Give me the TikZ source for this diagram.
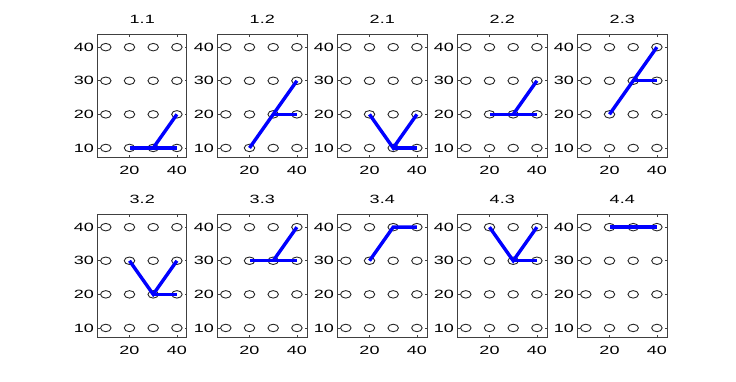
\documentclass[tikz,border=0pt]{standalone}
\usepackage{fontspec}
\setmainfont{Liberation Sans}
\usepackage{graphicx}
\usetikzlibrary{positioning,shapes.geometric}

\newcommand{\hw}[1]{\scalebox{1.5}[1]{#1}}
% one panel of the grid: #1 column, #2 row, #3 name, #4 title
\newcommand{\gridpanel}[4]{%
  \begin{scope}[shift={({(82.1+120*#1)*1pt},{(200.44-180*#2)*1pt})}, x=2.37pt, y=3.36pt]
    \draw[frame] (6.5,7.1) rectangle (44.26,43.9);
    \node[ttl] (#3-t) at (25.38,43.9) {\hw{#4}};
    \foreach \xx in {20,40} {
      \draw[tick] (\xx,7.1) -- ++(0,0.8);
      \draw[tick] (\xx,43.9) -- ++(0,-0.8);
      \node[ticklab, anchor=north, yshift=-8.5pt] (#3-x\xx) at (\xx,7.1) {\hw{\xx}};
    }
    \foreach \yy in {10,20,30,40} {
      \draw[tick] (6.5,\yy) -- ++(1,0);
      \draw[tick] (44.26,\yy) -- ++(-1,0);
      \node[ticklab, anchor=east, xshift=-3.5pt] (#3-y\yy) at (6.5,\yy) {\hw{\yy}};
      \foreach \xx in {10,20,30,40}
        \node[dot] (#3-\xx-\yy) at (\xx,\yy) {};
    }
  \end{scope}
}

\begin{document}
\begin{tikzpicture}[
    frame/.style={draw=black!75, line width=1pt},
    tick/.style={draw=black!75, line width=0.7pt},
    dot/.style={ellipse, draw=black!85, line width=0.9pt, minimum width=10.5pt,
                minimum height=7.5pt, inner sep=0pt},
    ticklab/.style={inner sep=0pt, font=\fontsize{12}{14}\selectfont},
    ttl/.style={inner sep=0pt, yshift=15pt, font=\fontsize{12}{14}\selectfont},
    edge/.style={draw=blue, line width=3.4pt}
  ]
  \useasboundingbox (0,0) rectangle (736pt,382pt);

  % ----- Top row -----
  \gridpanel{0}{0}{pa}{1.1}
  \gridpanel{1}{0}{pb}{1.2}
  \gridpanel{2}{0}{pc}{2.1}
  \gridpanel{3}{0}{pd}{2.2}
  \gridpanel{4}{0}{pe}{2.3}
  \draw[edge] (pa-20-10.center) -- (pa-30-10.center) -- (pa-40-10.center);
  \draw[edge] (pa-30-10.center) -- (pa-40-20.center);
  \draw[edge] (pb-20-10.center) -- (pb-30-20.center) -- (pb-40-30.center);
  \draw[edge] (pb-30-20.center) -- (pb-40-20.center);
  \draw[edge] (pc-20-20.center) -- (pc-30-10.center) -- (pc-40-20.center);
  \draw[edge] (pc-30-10.center) -- (pc-40-10.center);
  \draw[edge] (pd-20-20.center) -- (pd-30-20.center) -- (pd-40-20.center);
  \draw[edge] (pd-30-20.center) -- (pd-40-30.center);
  \draw[edge] (pe-20-20.center) -- (pe-30-30.center) -- (pe-40-40.center);
  \draw[edge] (pe-30-30.center) -- (pe-40-30.center);

  % ----- Bottom row -----
  \gridpanel{0}{1}{pf}{3.2}
  \gridpanel{1}{1}{pg}{3.3}
  \gridpanel{2}{1}{ph}{3.4}
  \gridpanel{3}{1}{pi}{4.3}
  \gridpanel{4}{1}{pj}{4.4}
  \draw[edge] (pf-20-30.center) -- (pf-30-20.center) -- (pf-40-30.center);
  \draw[edge] (pf-30-20.center) -- (pf-40-20.center);
  \draw[edge] (pg-20-30.center) -- (pg-30-30.center) -- (pg-40-30.center);
  \draw[edge] (pg-30-30.center) -- (pg-40-40.center);
  \draw[edge] (ph-20-30.center) -- (ph-30-40.center) -- (ph-40-40.center);
  \draw[edge] (pi-20-40.center) -- (pi-30-30.center) -- (pi-40-40.center);
  \draw[edge] (pi-30-30.center) -- (pi-40-30.center);
  \draw[edge] (pj-20-40.center) -- (pj-30-40.center) -- (pj-40-40.center);
\end{tikzpicture}
\end{document}
